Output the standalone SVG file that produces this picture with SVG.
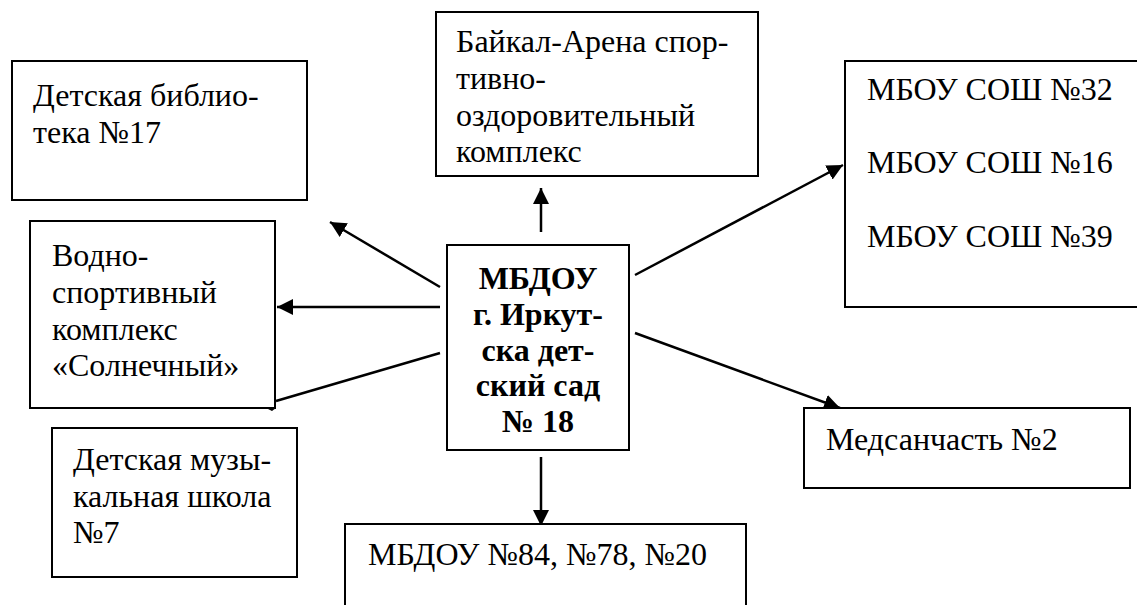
<svg xmlns="http://www.w3.org/2000/svg" width="1137" height="605" viewBox="0 0 1137 605">
<style>
.box{fill:#fff;stroke:#000;stroke-width:2}
.t{font-family:'Liberation Serif','Times New Roman',serif;font-size:32px;fill:#000}
.b{font-weight:bold;text-anchor:middle}
.c{stroke:#000;stroke-width:2.5;fill:none;marker-end:url(#ah)}
.p{stroke:#000;stroke-width:2.5;fill:none}
</style>
<defs>
<marker id="ah" markerUnits="userSpaceOnUse" markerWidth="18" markerHeight="16" refX="16" refY="8" orient="auto">
<path d="M0,0 L16,8 L0,16 Z" fill="#000"/>
</marker>
</defs>
<rect width="1137" height="605" fill="#fff"/>
<g id="connectors">
<line class="c" x1="440" y1="287" x2="330" y2="222"/>
<line class="c" x1="440" y1="307" x2="277" y2="307"/>
<line class="p" x1="440" y1="353" x2="276" y2="401"/>
<path d="M266,408 L276,408 L272,411 Z" fill="#000"/>
<line class="c" x1="541" y1="232" x2="541" y2="188"/>
<line class="c" x1="635" y1="275" x2="843" y2="165"/>
<line class="c" x1="635" y1="333" x2="840" y2="408"/>
<line class="c" x1="541" y1="457" x2="541" y2="526"/>
</g>
<g id="biblioteka">
<rect class="box" x="12" y="61" width="295" height="139"/>
<text class="t" x="33" y="106">Детская библио-</text>
<text class="t" x="33" y="143">тека №17</text>
</g>
<g id="baikal">
<rect class="box" x="436" y="12" width="322" height="164"/>
<text class="t" x="456" y="52">Байкал-Арена спор-</text>
<text class="t" x="456" y="89">тивно-</text>
<text class="t" x="456" y="126">оздоровительный</text>
<text class="t" x="456" y="162">комплекс</text>
</g>
<g id="vodno">
<rect class="box" x="30" y="221" width="245" height="187"/>
<text class="t" x="52" y="266">Водно-</text>
<text class="t" x="52" y="303">спортивный</text>
<text class="t" x="52" y="340">комплекс</text>
<text class="t" x="52" y="376">«Солнечный»</text>
</g>
<g id="center">
<rect class="box" x="447" y="245" width="182" height="205"/>
<text class="t b" x="538" y="289">МБДОУ</text>
<text class="t b" x="538" y="325">г. Иркут-</text>
<text class="t b" x="538" y="361">ска дет-</text>
<text class="t b" x="538" y="396">ский сад</text>
<text class="t b" x="538" y="432">№ 18</text>
</g>
<g id="schools">
<rect class="box" x="845" y="61" width="300" height="246"/>
<text class="t" x="867" y="100">МБОУ СОШ №32</text>
<text class="t" x="867" y="173">МБОУ СОШ №16</text>
<text class="t" x="867" y="247">МБОУ СОШ №39</text>
</g>
<g id="medsanchast">
<rect class="box" x="804" y="408" width="326" height="80"/>
<text class="t" x="826" y="450">Медсанчасть №2</text>
</g>
<g id="muzshkola">
<rect class="box" x="52" y="428" width="245" height="149"/>
<text class="t" x="73" y="470">Детская музы-</text>
<text class="t" x="73" y="507">кальная школа</text>
<text class="t" x="73" y="543">№7</text>
</g>
<g id="mbdou">
<rect class="box" x="345" y="524" width="401" height="100"/>
<text class="t" x="368" y="565">МБДОУ №84, №78, №20</text>
</g>
</svg>
